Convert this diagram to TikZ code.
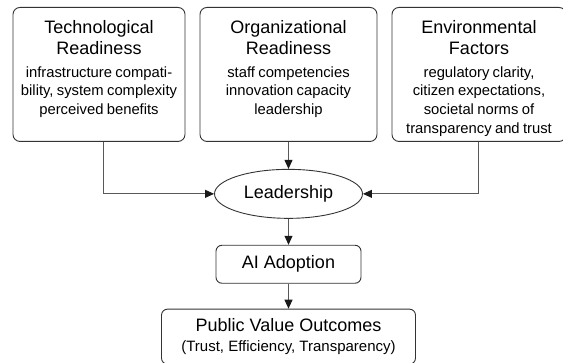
\documentclass[tikz,border=0pt]{standalone}
\usepackage{fontspec}
\setmainfont{Liberation Sans}
\usetikzlibrary{positioning, shapes, arrows.meta}

\newcommand{\headf}{\fontsize{18}{21}\selectfont}
\newcommand{\bodyf}{\fontsize{14.8}{18.7}\selectfont}

\begin{document}
\begin{tikzpicture}[%
  x = 1pt, y = -1pt,
  node distance = 26pt,
  factor/.style = {rectangle, rounded corners=7pt, draw=black!80,
                   line width=.9pt, align=center, anchor=north,
                   inner xsep=4pt, inner ysep=5pt,
                   text height=21pt, text depth=103pt},
  lead/.style =   {ellipse, draw=black!80, line width=.9pt,
                   minimum width=148pt, minimum height=49pt,
                   inner sep=0pt, font=\headf},
  stage/.style =  {rectangle, rounded corners=6pt, draw=black!80,
                   line width=.9pt, align=center, inner sep=0pt,
                   font=\headf},
  flow/.style =   {line width=.9pt, draw=black!65,
                   -{Triangle[length=9pt, width=8pt, color=black!90]}}
]

  \useasboundingbox (0,0) rectangle (563,363);

  % three groups of factors
  \node[factor, text width=164pt] (tech) at (99,7) {%
        \headf Technological\\Readiness\par\vspace{4pt}
        \bodyf infrastructure compati-\\bility, system complexity\\perceived benefits\par};
  \node[factor, text width=169pt] (org) at (288.5,7) {%
        \headf Organizational\\Readiness\par\vspace{4pt}
        \bodyf staff competencies\\innovation capacity\\leadership\par};
  \node[factor, text width=166pt] (env) at (479,7) {%
        \headf Environmental\\Factors\par\vspace{4pt}
        \bodyf regulatory clarity,\\citizen expectations,\\societal norms of\\transparency and trust\par};

  % main chain
  \node[lead, below=27pt of org] (ldr) {Leadership};
  \node[stage, minimum width=145pt, minimum height=38pt,
        below=of ldr] (ai) {AI Adoption};
  \node[stage, minimum width=254pt, minimum height=55pt,
        below=25pt of ai] (pv) {%
        Public Value Outcomes\\[-1pt]
        {\fontsize{15}{17}\selectfont (Trust, Efficiency, Transparency)}};

  % Connections
  \draw[flow] ([xshift=4pt]tech.south) |- (ldr.west);
  \draw[flow] ([xshift=-1pt]env.south) |- (ldr.east);
  \draw[flow] (org) -- (ldr);
  \draw[flow] (ldr) -- (ai);
  \draw[flow] (ai) -- (pv);

\end{tikzpicture}
\end{document}
